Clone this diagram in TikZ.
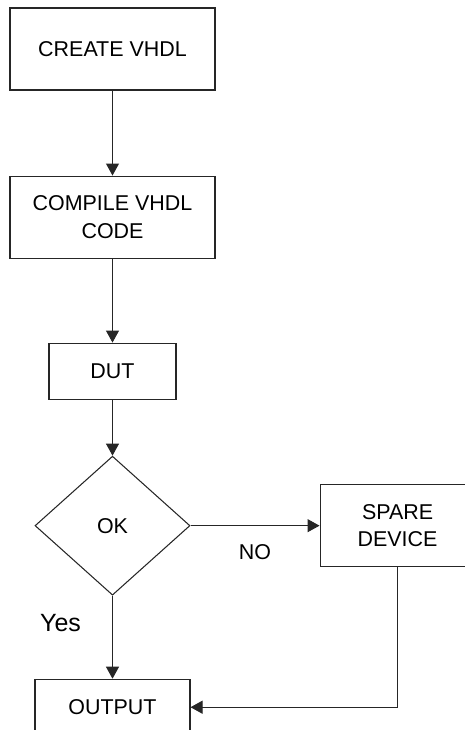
\documentclass[tikz,border=0pt]{standalone}
\usepackage{fontspec}
\setmainfont{Liberation Sans}
\usepackage{tikz}
\usetikzlibrary{positioning,arrows.meta,shapes.geometric}

\begin{document}
\begin{tikzpicture}[
    ->,
    >={Triangle[width=0.26cm,length=0.24cm]},
    line width=0.6pt,
    draw=black!85,
    font=\fontsize{12.2}{15.5}\selectfont
]


\tikzstyle{block}=[
    rectangle,
    draw,
    minimum width=4.1cm,
    minimum height=1.64cm,
    inner sep=0pt,
    align=center
]

\tikzstyle{decision}=[
    diamond,
    draw,
    minimum width=3.1cm,
    minimum height=2.78cm,
    inner sep=0pt,
    align=center
]


\path[use as bounding box, clip] (0,0) rectangle (9.3,-14.6);


\node[block] (create) at (2.25,-0.98) {CREATE VHDL};
\node[block, below=1.7cm of create] (compile) {COMPILE VHDL\\CODE};
\node[block, minimum width=2.54cm, minimum height=1.12cm, below=1.68cm of compile] (dut) {DUT};
\node[decision, below=1.12cm of dut] (ok) {OK};
\node[block, minimum width=3.1cm, right=2.58cm of ok] (spare) {SPARE\\DEVICE};
\node[block, minimum width=3.1cm, minimum height=1.12cm, below=1.66cm of ok] (output) {OUTPUT};


\draw (create) -- (compile);
\draw (compile) -- (dut);
\draw (dut) -- (ok);
\draw (ok) -- node[midway, yshift=-0.53cm, draw=none] (no) {NO} (spare);
\draw (ok) -- node[pos=0.33, xshift=-1.04cm, font=\fontsize{14.2}{17}\selectfont] (yes) {Yes} (output);
\draw (spare.south) |- (output.east);

\end{tikzpicture}
\end{document}
